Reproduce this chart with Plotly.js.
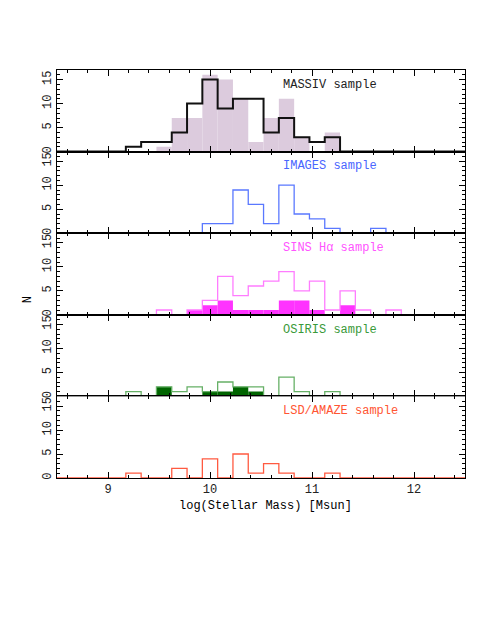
<!DOCTYPE html>
<html>
<head>
<meta charset="utf-8">
<script src="https://cdn.plot.ly/plotly-3.0.1.min.js"></script>
<style>
  body { margin: 0; background: #fff; }
  #graph { width: 491px; height: 635px; }
</style>
</head>
<body>
<div id="graph"></div>
<script>
// bin centres (log stellar mass), bin width 0.15 dex
var binCenters = [9.25, 9.40, 9.55, 9.70, 9.85, 10.00, 10.15, 10.30, 10.45,
                  10.60, 10.75, 10.90, 11.05, 11.20, 11.35, 11.50, 11.65, 11.80];
var binWidth = 0.15;

// counts per bin
var massivOpen   = [1, 2, 2, 4, 10, 15, 9, 11, 11, 4, 7, 3, 2, 3, 0, 0, 0, 0];
var massivFilled = [0, 0, 1, 7, 7, 16, 15, 11, 2, 7, 11, 3, 0, 4, 0, 0, 0, 0];
var imagesOpen   = [0, 0, 0, 0, 0, 2, 2, 9, 6, 2, 10, 4, 3, 1, 0, 0, 1, 0];
var sinsOpen     = [0, 0, 1, 0, 1, 3, 8, 4, 6, 7, 9, 5, 7, 1, 5, 1, 0, 1];
var sinsFilled   = [0, 0, 0, 0, 1, 2, 3, 1, 1, 1, 3, 3, 1, 0, 2, 0, 0, 0];
var osirisOpen   = [1, 0, 2, 1, 2, 1, 3, 2, 2, 0, 4, 1, 0, 1, 0, 0, 0, 0];
var osirisFilled = [0, 0, 2, 0, 0, 1, 1, 2, 1, 0, 0, 0, 0, 0, 0, 0, 0, 0];
var lsdOpen      = [1, 0, 0, 2, 0, 4, 0, 5, 1, 3, 1, 0, 0, 1, 0, 0, 0, 0];

var panelNames = ["MASSIV sample", "IMAGES sample", "SINS H\u03b1 sample", "OSIRIS sample", "LSD/AMAZE sample"];
var yTicks = [0, 5, 10, 15];
var xTicks = [9, 10, 11, 12];

var xRange = [8.5, 12.5];
var fontFam = "Liberation Mono, Courier New, monospace";

// axis id for panel n (1 = top)
function ax(n) { return n === 1 ? '' : String(n); }

// step outline like a pgbin histogram
function stepTrace(counts, color, width, n) {
    var xs = [xRange[0]];
    var ys = [0];
    for (var i = 0; i < binCenters.length; i++) {
        xs.push(binCenters[i] - binWidth / 2);
        ys.push(counts[i]);
    }
    xs.push(binCenters[binCenters.length - 1] + binWidth / 2);
    ys.push(0);
    xs.push(xRange[1]);
    ys.push(0);
    return {
        x: xs, y: ys, type: 'scatter', mode: 'lines',
        line: {shape: 'hv', color: color, width: width},
        xaxis: 'x' + ax(n), yaxis: 'y' + ax(n), hoverinfo: 'skip'
    };
}

function barTrace(counts, color, n) {
    return {
        x: binCenters, y: counts, type: 'bar', width: binWidth,
        marker: {color: color, line: {width: 0}},
        xaxis: 'x' + ax(n), yaxis: 'y' + ax(n), hoverinfo: 'skip'
    };
}

var data = [
    barTrace(massivFilled, '#dccbdd', 1),
    stepTrace(massivOpen, '#111111', 2, 1),
    stepTrace(imagesOpen, '#5a78ff', 1.3, 2),
    stepTrace(sinsOpen, '#ff7cff', 1.3, 3),
    barTrace(sinsFilled, '#ff33ff', 3),
    stepTrace(osirisOpen, '#66b066', 1.3, 4),
    barTrace(osirisFilled, '#006400', 4),
    stepTrace(lsdOpen, '#ff5a40', 1.3, 5)
];

var labelColors = ['#222222', '#4a66ff', '#ff55ff', '#3a9a3a', '#ff5533'];

var layout = {
    width: 491,
    height: 635,
    margin: {l: 57, r: 26, t: 70, b: 157},
    paper_bgcolor: 'white',
    plot_bgcolor: 'white',
    showlegend: false,
    barmode: 'overlay',
    font: {family: fontFam, size: 12, color: 'black'},
    annotations: []
};

for (var p = 0; p < 5; p++) {
    var n = p + 1;
    var panelTop = 1 - p * 0.2;
    layout['xaxis' + ax(n)] = {
        domain: [0, 1],
        anchor: 'y' + ax(n),
        range: xRange,
        tickvals: xTicks,
        ticks: 'inside', ticklen: 6, tickwidth: 1, tickcolor: 'black',
        minor: {dtick: 0.2, tick0: 9, ticks: 'inside', ticklen: 3, tickcolor: 'black'},
        showline: true, linecolor: 'black', linewidth: 1, mirror: 'ticks',
        showgrid: false, zeroline: false,
        showticklabels: p === 4,
        tickfont: {family: fontFam, size: 12, color: '#222'}
    };
    layout['yaxis' + ax(n)] = {
        domain: [Math.max(0, panelTop - 0.2), panelTop],
        anchor: 'x' + ax(n),
        range: [0, 17],
        tickvals: yTicks,
        tickangle: -90,
        ticks: 'inside', ticklen: 6, tickwidth: 1, tickcolor: 'black',
        minor: {dtick: 1, ticks: 'inside', ticklen: 3, tickcolor: 'black'},
        showline: true, linecolor: 'black', linewidth: 1, mirror: 'ticks',
        showgrid: false, zeroline: false,
        tickfont: {family: fontFam, size: 12, color: '#222'}
    };
    layout.annotations.push({
        text: panelNames[p], xref: 'x' + ax(n), yref: 'y' + ax(n),
        x: 10.7, y: 13.9, xanchor: 'left', yanchor: 'middle',
        showarrow: false, font: {family: fontFam, size: 12, color: labelColors[p]}
    });
}

// axis titles
layout.annotations.push({
    text: 'log(Stellar Mass) [Msun]', xref: 'paper', yref: 'paper',
    x: 0.512, y: -0.068, xanchor: 'center', yanchor: 'middle',
    showarrow: false, font: {family: fontFam, size: 12}
});
layout.annotations.push({
    text: 'N', xref: 'paper', yref: 'paper', textangle: -90,
    x: -0.071, y: 0.436, xanchor: 'center', yanchor: 'middle',
    showarrow: false, font: {family: fontFam, size: 12}
});

Plotly.newPlot('graph', data, layout, {staticPlot: true});
</script>
</body>
</html>
